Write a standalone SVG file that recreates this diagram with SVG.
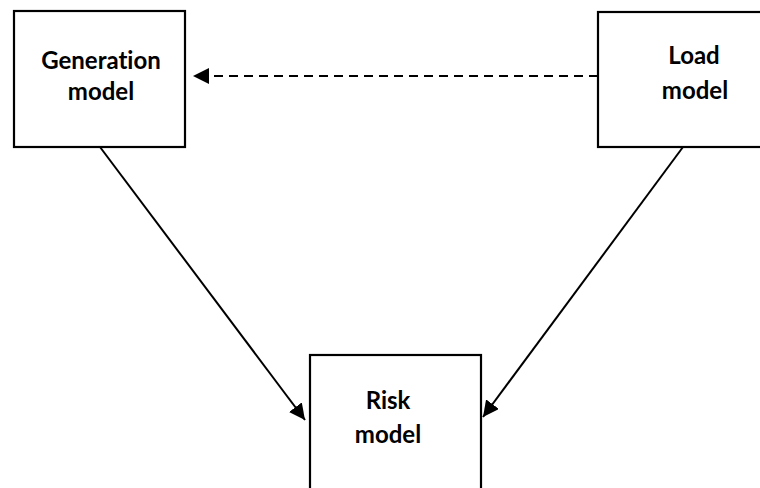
<svg xmlns="http://www.w3.org/2000/svg" width="760" height="488" viewBox="0 0 760 488">
<style>
.box{fill:#fff;stroke:#000;stroke-width:2.2}
.lbl{font-family:Lato,"Open Sans","Liberation Sans",sans-serif;font-weight:bold;font-size:24px;fill:#000;text-anchor:middle;font-variant-ligatures:none}
.ln{stroke:#000;stroke-width:2;fill:none}
</style>
<defs>
<marker id="ah" viewBox="0 0 10 10" refX="10" refY="5" markerWidth="8" markerHeight="8" orient="auto" markerUnits="strokeWidth">
<path d="M0,0 L10,5 L0,10 z" fill="#000"/>
</marker>
</defs>
<rect width="760" height="488" fill="#fff"/>
<g id="generation">
<rect class="box" x="14" y="11" width="171" height="136"/>
<text class="lbl" x="101" y="69">Generation</text>
<text class="lbl" x="101" y="100">model</text>
</g>
<g id="load">
<rect class="box" x="598" y="12" width="175" height="135"/>
<text class="lbl" x="694" y="64">Load</text>
<text class="lbl" x="695" y="99">model</text>
</g>
<g id="risk">
<rect class="box" x="310" y="355" width="171" height="145"/>
<text class="lbl" x="388" y="409">Risk</text>
<text class="lbl" x="388" y="443">model</text>
</g>
<g id="connectors">
<line class="ln" x1="598" y1="76" x2="193" y2="76" stroke-dasharray="9,6" marker-end="url(#ah)"/>
<line class="ln" x1="100" y1="147" x2="305" y2="420" marker-end="url(#ah)"/>
<line class="ln" x1="683" y1="147" x2="483" y2="417" marker-end="url(#ah)"/>
</g>
</svg>
